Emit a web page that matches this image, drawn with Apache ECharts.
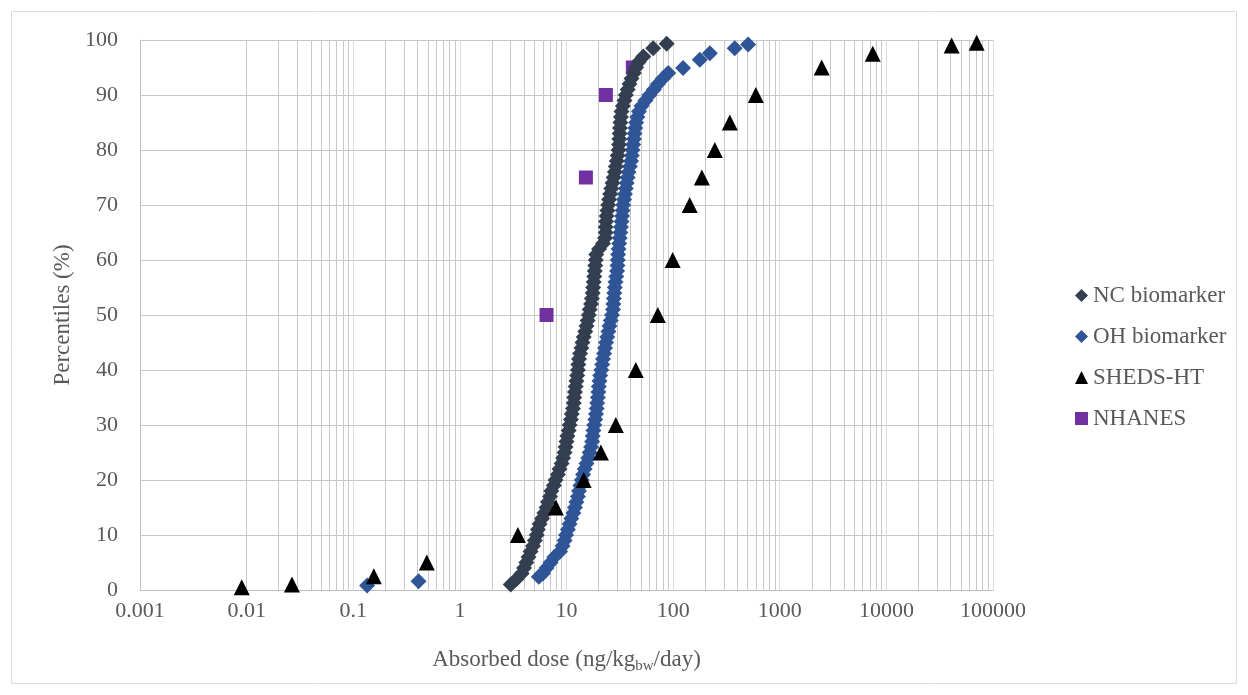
<!DOCTYPE html>
<html>
<head>
<meta charset="utf-8">
<script src="https://cdn.jsdelivr.net/npm/echarts@6/dist/echarts.min.js"></script>
<style>
html, body { margin: 0; padding: 0; background: #fff; }
#chart { width: 1248px; height: 695px; }
</style>
</head>
<body>
<div id="chart"></div>
<script>
// NC biomarker - dose (ng/kg bw/day) and percentile
var ncDose = [3.0, 3.4, 3.8, 4.0, 4.2, 4.4, 4.6, 4.85, 5.05, 5.25, 5.4, 5.6, 5.9, 6.2, 6.5, 6.7, 7.0, 7.2, 7.6, 7.9,
  8.3, 8.6, 9.0, 9.3, 9.6, 9.8, 10.0, 10.2, 10.5, 10.7, 11.0, 11.2, 11.5, 11.7, 11.8, 12.0, 12.2, 12.4, 12.6, 12.8,
  12.9, 13.1, 13.4, 13.8, 14.1, 14.5, 15.0, 15.4, 15.8, 16.2, 16.5, 17.0, 17.3, 17.6, 17.8, 18.0, 18.2, 18.4, 18.6, 18.8,
  19.0, 20.2, 22.0, 23.0, 23.3, 23.3, 23.5, 23.8, 24.2, 24.6, 25.1, 25.7, 26.3, 27.0, 27.7, 28.4, 29.0, 29.6, 30.2, 30.8,
  31.1, 31.3, 31.5, 31.7, 32.0, 32.4, 32.8, 33.8, 35.0, 36.0, 37.5, 39.0, 40.7, 42.8, 45.0, 47.5, 52.5, 65, 87];
var ncPct = [1, 2, 3, 4, 5, 6, 7, 8, 9, 10, 11, 12, 13, 14, 15, 16, 17, 18, 19, 20,
  21, 22, 23, 24, 25, 26, 27, 28, 29, 30, 31, 32, 33, 34, 35, 36, 37, 38, 39, 40,
  41, 42, 43, 44, 45, 46, 47, 48, 49, 50, 51, 52, 53, 54, 55, 56, 57, 58, 59, 60,
  61, 62, 63, 64, 65, 66, 67, 68, 69, 70, 71, 72, 73, 74, 75, 76, 77, 78, 79, 80,
  81, 82, 83, 84, 85, 86, 87, 88, 89, 90, 91, 92, 93, 94, 95, 96, 97, 98.5, 99.3];

// OH biomarker
var ohDose = [0.135, 0.41, 5.5, 6.0, 6.5, 7.1, 7.7, 8.7, 9.2, 9.6, 9.9, 10.3, 10.7, 11.1, 11.6, 12.0, 12.4, 12.8, 13.1, 13.5,
  13.9, 14.3, 14.8, 15.4, 16.0, 16.5, 17.0, 17.4, 17.6, 17.9, 18.2, 18.6, 18.9, 19.2, 19.4, 19.7, 19.9, 20.1, 20.4, 20.7,
  21.2, 21.6, 22.0, 22.5, 23.0, 23.5, 24.1, 24.7, 25.3, 26.0, 26.7, 27.3, 27.5, 27.8, 28.1, 28.4, 28.8, 29.3, 29.8, 30.1,
  30.3, 30.5, 30.8, 31.2, 31.6, 32.0, 32.4, 32.8, 33.2, 33.6, 34.0, 34.6, 35.3, 36.0, 36.7, 37.5, 38.2, 39.3, 40.3, 41.0,
  41.6, 42.2, 42.9, 43.5, 44.2, 45.0, 46.2, 47.8, 50.5, 55, 60, 66, 72, 80, 90, 124, 178, 221, 378, 505];
var ohPct = [0.8, 1.6, 2.4, 3, 4, 5, 6, 7, 8, 9, 10, 11, 12, 13, 14, 15, 16, 17, 18, 19,
  20, 21, 22, 23, 24, 25, 26, 27, 28, 29, 30, 31, 32, 33, 34, 35, 36, 37, 38, 39,
  40, 41, 42, 43, 44, 45, 46, 47, 48, 49, 50, 51, 52, 53, 54, 55, 56, 57, 58, 59,
  60, 61, 62, 63, 64, 65, 66, 67, 68, 69, 70, 71, 72, 73, 74, 75, 76, 77, 78, 79,
  80, 81, 82, 83, 84, 85, 86, 87, 88, 89, 90, 91, 92, 93, 94, 94.9, 96.4, 97.6, 98.5, 99.2];

// SHEDS-HT
var shedsDose = [0.009, 0.0266, 0.156, 0.49, 3.5, 7.95, 14.5, 21, 29, 44.7, 71.8, 99, 143, 186, 246, 340, 596, 2475, 7450, 40900, 70300];
var shedsPct = [0.5, 1, 2.5, 5, 10, 15, 20, 25, 30, 40, 50, 60, 70, 75, 80, 85, 90, 95, 97.5, 99, 99.5];

// NHANES
var nhanesDose = [6.5, 15.2, 23.4, 41.9];
var nhanesPct = [50, 75, 90, 95];

var seriesNames = ['NC biomarker', 'OH biomarker', 'SHEDS-HT', 'NHANES'];

function pairs(xs, ys) {
  return xs.map(function (x, i) { return [x, ys[i]]; });
}

// minor gridlines at 2..9 x 10^k
var minorLines = [];
for (var k = -3; k < 5; k++) {
  for (var m = 2; m <= 9; m++) {
    minorLines.push({ xAxis: Number((m * Math.pow(10, k)).toPrecision(3)) });
  }
}

var font = 'Liberation Serif';
var txt = '#595959';

var chart = echarts.init(document.getElementById('chart'));
var option = {
  backgroundColor: '#fff',
  animation: false,
  textStyle: { fontFamily: font },
  graphic: [{
    type: 'rect',
    shape: { x: 11.5, y: 11.5, width: 1225, height: 672 },
    style: { fill: 'none', stroke: '#d9d9d9', lineWidth: 1 },
    silent: true
  }],
  grid: { left: 140, right: 255, top: 40, bottom: 105 },
  legend: {
    orient: 'vertical',
    left: 1070,
    top: 279,
    itemGap: 18,
    itemWidth: 13,
    itemHeight: 13,
    data: seriesNames,
    textStyle: { fontFamily: font, fontSize: 23, color: txt }
  },
  xAxis: {
    type: 'log',
    logBase: 10,
    min: 0.001,
    max: 100000,
    name: 'Absorbed dose (ng/kg{sub|bw}/day)',
    nameLocation: 'middle',
    nameGap: 56,
    nameTextStyle: {
      fontFamily: font, fontSize: 23, color: txt, lineHeight: 28,
      rich: { sub: { fontFamily: font, fontSize: 15, color: txt, verticalAlign: 'bottom', lineHeight: 15, padding: [10, 0, 0, 0] } }
    },
    axisLine: { show: true, lineStyle: { color: '#bfbfbf' } },
    axisTick: { show: false },
    axisLabel: {
      fontFamily: font, fontSize: 22, color: txt, margin: 10,
      formatter: function (v) { return String(Number(v.toPrecision(3))); }
    },
    splitLine: { show: true, lineStyle: { color: '#dcdcdc' } }
  },
  yAxis: {
    type: 'value',
    min: 0,
    max: 100,
    interval: 10,
    name: 'Percentiles (%)',
    nameLocation: 'middle',
    nameGap: 66,
    nameTextStyle: { fontFamily: font, fontSize: 23, color: txt },
    axisLine: { show: true, lineStyle: { color: '#bfbfbf' } },
    axisTick: { show: false },
    axisLabel: { fontFamily: font, fontSize: 22, color: txt, margin: 22 },
    splitLine: { show: true, lineStyle: { color: '#c8c8c8' } }
  },
  series: [
    {
      name: 'minor',
      type: 'scatter',
      data: [],
      z: 0,
      markLine: {
        silent: true,
        z: 0,
        symbol: ['none', 'none'],
        label: { show: false },
        lineStyle: { color: '#c8c8c8', type: 'solid', width: 1 },
        emphasis: { disabled: true },
        data: minorLines
      }
    },
    {
      name: seriesNames[0], type: 'scatter', symbol: 'diamond', symbolSize: 16, z: 4,
      itemStyle: { color: '#333f50', opacity: 1 },
      data: pairs(ncDose, ncPct)
    },
    {
      name: seriesNames[1], type: 'scatter', symbol: 'diamond', symbolSize: 16, z: 3,
      itemStyle: { color: '#2f5597', opacity: 1 },
      data: pairs(ohDose, ohPct)
    },
    {
      name: seriesNames[2], type: 'scatter', symbol: 'triangle', symbolSize: 16, z: 5,
      itemStyle: { color: '#000000', opacity: 1 },
      data: pairs(shedsDose, shedsPct)
    },
    {
      name: seriesNames[3], type: 'scatter', symbol: 'rect', symbolSize: 14, z: 2,
      itemStyle: { color: '#7030a0', opacity: 1 },
      data: pairs(nhanesDose, nhanesPct)
    }
  ]
};
chart.setOption(option);
</script>
</body>
</html>
